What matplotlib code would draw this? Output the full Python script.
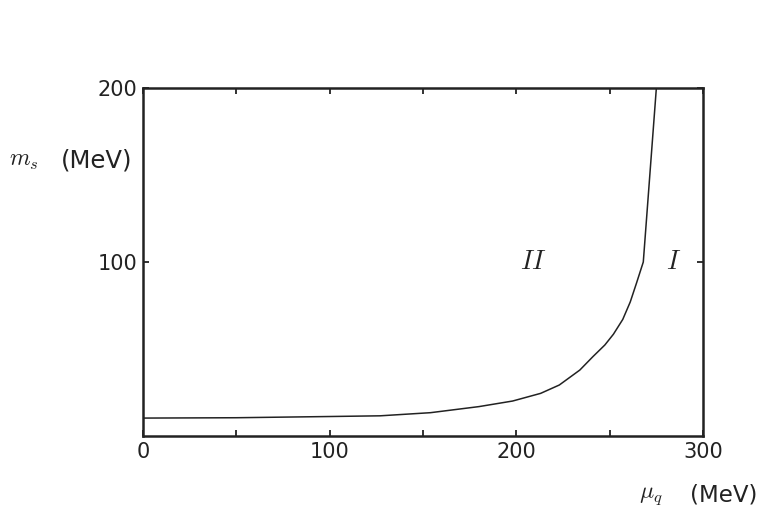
import numpy as np
import matplotlib
matplotlib.use('Agg')
import matplotlib.pyplot as plt

plt.rcParams['mathtext.fontset'] = 'cm'
plt.rcParams['font.family'] = 'DejaVu Sans'

# Boundary between phase I and phase II
mu_q = [0, 50, 100, 127, 154, 180, 198, 213, 223, 234, 241, 247.4, 252, 257, 261, 264.4, 268, 275]
m_s = [10.3, 10.5, 11.2, 11.6, 13.4, 16.9, 20.1, 24.5, 29.3, 37.9, 45.6, 52.3, 58.5, 67.0, 77.0, 88.0, 100.0, 200.0]

x_ticks = [0, 50, 100, 150, 200, 250, 300]
x_labels = ['0', '', '100', '', '200', '', '300']
y_ticks = [100, 200]
y_labels = ['100', '200']

fig = plt.figure(figsize=(7.63, 5.18), dpi=100)
ax = fig.add_axes([0.1874, 0.1583, 0.7340, 0.6718])

ax.plot(mu_q, m_s, color='#222222', lw=1.1)

ax.set_xlim(0, 300)
ax.set_ylim(0, 200)
ax.set_xticks(x_ticks)
ax.set_xticklabels(x_labels)
ax.set_yticks(y_ticks)
ax.set_yticklabels(y_labels)
ax.tick_params(direction='in', length=4, width=1.3, top=True, right=True,
               labelsize=15, colors='#222222', pad=4)
for s in ax.spines.values():
    s.set_linewidth(1.8)
    s.set_color('#222222')

ax.text(209, 100, '$II$', fontsize=19, ha='center', va='center', color='#222222')
ax.text(284, 100, '$I$', fontsize=19, ha='center', va='center', color='#222222')

fig.text(0.012, 0.691, r'$m_s$', fontsize=17, ha='left', va='center', color='#222222')
fig.text(0.080, 0.691, '(MeV)', fontsize=17.5, ha='left', va='center', color='#222222')
fig.text(0.838, 0.044, r'$\mu_q$', fontsize=17, ha='left', va='center', color='#222222')
fig.text(0.904, 0.044, '(MeV)', fontsize=16.5, ha='left', va='center', color='#222222')

fig.savefig('out.png', dpi=100)
